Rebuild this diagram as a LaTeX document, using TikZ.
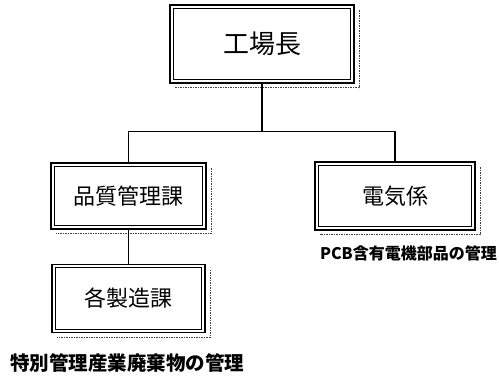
\documentclass[tikz,border=0pt]{standalone}
\usepackage{fontspec}
\newfontfamily\jp{Noto Sans CJK JP}
\begin{document}
\begin{tikzpicture}[x=1pt,y=-1pt,
  box/.style={draw, line width=1.6pt, inner sep=0pt, font=\jp\fontsize{22}{22}\selectfont,
    path picture={\draw[line width=0.8pt] ([shift={(3.2pt,3.2pt)}]path picture bounding box.south west) rectangle ([shift={(-3.2pt,-3.2pt)}]path picture bounding box.north east);}},
  shadowline/.style={black!75, line width=1.1pt, dash pattern=on 1.5pt off 1pt},
  conn/.style={line width=1.4pt},
  lbl/.style={font=\jp\bfseries, inner sep=0pt}]
\useasboundingbox[fill=white] (0,0) rectangle (499,376);
\node[box, minimum width=184pt, minimum height=78pt, font=\jp\fontsize{26}{26}\selectfont] (top) at (262,44) {工場長};
\node[box, minimum width=155pt, minimum height=66pt] (qc) at (128.5,196) {品質管理課};
\node[box, minimum width=160pt, minimum height=68pt] (el) at (395,196) {電気係};
\node[box, minimum width=153pt, minimum height=68pt] (mf) at (128.5,298.5) {各製造課};
\foreach \n in {top,qc,el,mf}
  \draw[shadowline] ([shift={(4.5pt,-6pt)}]\n.north east) -- ([shift={(4.5pt,-4pt)}]\n.south east) -- ([shift={(6pt,-4pt)}]\n.south west);
\coordinate (bus) at (262,131.5);
\draw[conn] (top.south) -- (bus);
\draw[conn] (qc.north) -- (qc.north |- bus) -- (el.north |- bus) -- (el.north);
\draw[conn] (qc.south) -- (mf.north);
\node[lbl, anchor=east, font=\jp\bfseries\fontsize{16}{16}\selectfont] (pcb) at (497,253) {PCB含有電機部品の管理};
\node[lbl, anchor=west, font=\jp\bfseries\fontsize{19.5}{19.5}\selectfont] (spec) at (10,363) {特別管理産業廃棄物の管理};
\end{tikzpicture}
\end{document}
